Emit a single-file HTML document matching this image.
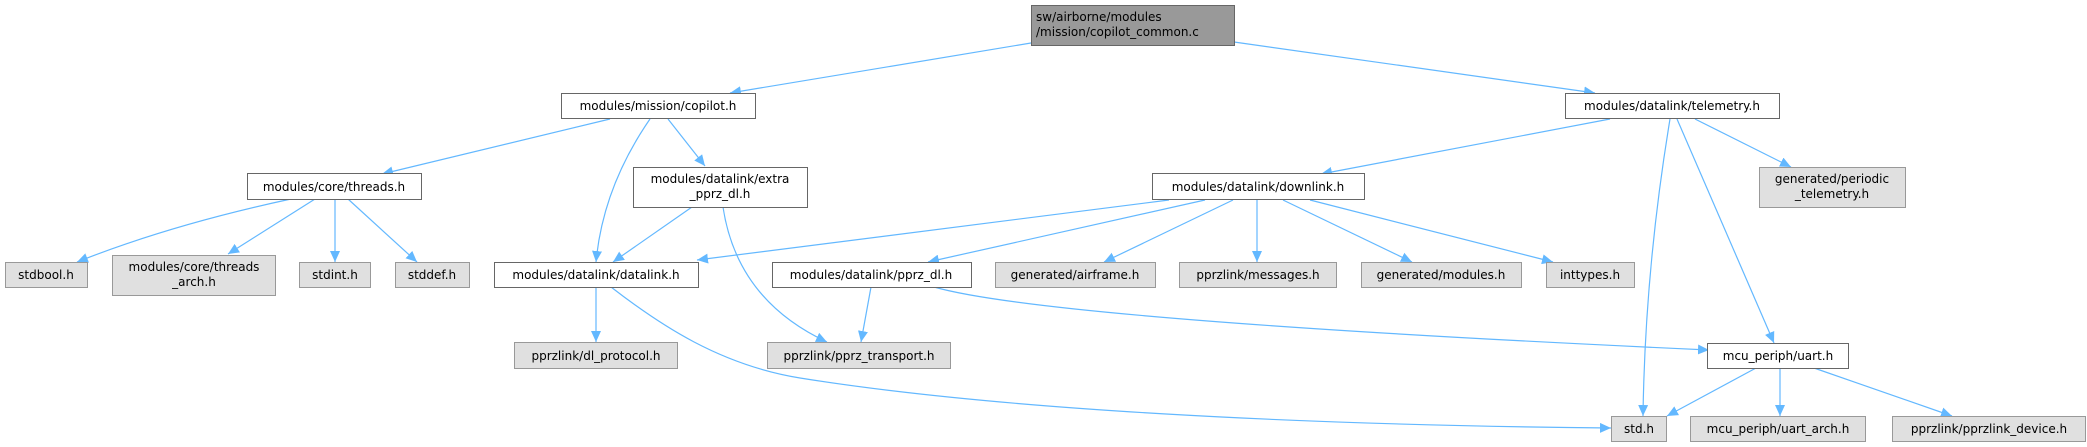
<!DOCTYPE html>
<html><head><meta charset="utf-8"><style>
html,body{margin:0;padding:0;background:#fff;}
svg{display:block;}
text{font-family:"DejaVu Sans","Liberation Sans",sans-serif;font-size:12px;fill:#000;}
.w{fill:#fff;stroke:#666;stroke-width:1;}
.g{fill:#e0e0e0;stroke:#999;stroke-width:1;}
.t{fill:#999;stroke:#666;stroke-width:1;}
.e{fill:none;stroke:#63b8ff;stroke-width:1.2;marker-end:url(#a);}
</style></head><body>
<svg width="2087" height="447" viewBox="0 0 2087 447" xmlns="http://www.w3.org/2000/svg">
<defs><marker id="a" markerUnits="userSpaceOnUse" markerWidth="12" markerHeight="10" refX="11" refY="5" orient="auto"><path d="M0,0 L11,5 L0,10 z" fill="#63b8ff"/></marker></defs>

<!-- edges -->
<path class="e" d="M1031,43 L730,93"/>
<path class="e" d="M1234,42 L1595,93"/>
<path class="e" d="M610,119 L382,174"/>
<path class="e" d="M650,119 Q603,187 596,262"/>
<path class="e" d="M668,119 L705,166"/>
<path class="e" d="M291,199 Q170,225 77,262"/>
<path class="e" d="M315,199 L228,254"/>
<path class="e" d="M335,199 L335,262"/>
<path class="e" d="M348,199 L417,262"/>
<path class="e" d="M692,207 L613,262"/>
<path class="e" d="M723,207 Q737,300 827,342"/>
<path class="e" d="M1169,200 L697,260"/>
<path class="e" d="M1205,200 L928,262"/>
<path class="e" d="M1233,200 L1104,262"/>
<path class="e" d="M1257,200 L1257,262"/>
<path class="e" d="M1283,200 L1412,262"/>
<path class="e" d="M1310,200 L1553,262"/>
<path class="e" d="M1610,119 L1321,174"/>
<path class="e" d="M1670,119 Q1645,270 1643,416"/>
<path class="e" d="M1677,119 L1774,343"/>
<path class="e" d="M1695,119 L1791,167"/>
<path class="e" d="M596,287 L596,342"/>
<path class="e" d="M611,287 C660,325 720,365 800,378 C1000,410 1300,425 1611,428"/>
<path class="e" d="M871,287 L861,342"/>
<path class="e" d="M934,287 Q1050,320 1709,350"/>
<path class="e" d="M1756,368 L1667,416"/>
<path class="e" d="M1780,368 L1780,416"/>
<path class="e" d="M1814,368 L1952,416"/>

<!-- nodes -->
<rect class="t" x="1031.5" y="5.5" width="203" height="40"/>
<text x="1036" y="21">sw/airborne/modules</text>
<text x="1036" y="36">/mission/copilot_common.c</text>

<rect class="w" x="561.5" y="93.5" width="194" height="25"/><text x="658" y="110" text-anchor="middle">modules/mission/copilot.h</text>
<rect class="w" x="1565.5" y="93.5" width="214" height="25"/><text x="1672" y="110" text-anchor="middle">modules/datalink/telemetry.h</text>

<rect class="w" x="247.5" y="173.5" width="174" height="26"/><text x="334" y="191" text-anchor="middle">modules/core/threads.h</text>
<rect class="w" x="633.5" y="167.5" width="174" height="40"/><text x="720" y="183" text-anchor="middle">modules/datalink/extra</text><text x="720" y="198" text-anchor="middle">_pprz_dl.h</text>
<rect class="w" x="1152.5" y="173.5" width="212" height="26"/><text x="1258" y="191" text-anchor="middle">modules/datalink/downlink.h</text>
<rect class="g" x="1759.5" y="167.5" width="146" height="40"/><text x="1832" y="183" text-anchor="middle">generated/periodic</text><text x="1832" y="198" text-anchor="middle">_telemetry.h</text>

<rect class="g" x="5.5" y="262.5" width="82" height="25"/><text x="46" y="279" text-anchor="middle">stdbool.h</text>
<rect class="g" x="112.5" y="255.5" width="163" height="40"/><text x="194" y="271" text-anchor="middle">modules/core/threads</text><text x="194" y="286" text-anchor="middle">_arch.h</text>
<rect class="g" x="299.5" y="262.5" width="71" height="25"/><text x="335" y="279" text-anchor="middle">stdint.h</text>
<rect class="g" x="395.5" y="262.5" width="74" height="25"/><text x="432" y="279" text-anchor="middle">stddef.h</text>
<rect class="w" x="494.5" y="262.5" width="204" height="25"/><text x="596" y="279" text-anchor="middle">modules/datalink/datalink.h</text>
<rect class="w" x="772.5" y="262.5" width="199" height="25"/><text x="871" y="279" text-anchor="middle">modules/datalink/pprz_dl.h</text>
<rect class="g" x="995.5" y="262.5" width="160" height="25"/><text x="1075" y="279" text-anchor="middle">generated/airframe.h</text>
<rect class="g" x="1179.5" y="262.5" width="157" height="25"/><text x="1258" y="279" text-anchor="middle">pprzlink/messages.h</text>
<rect class="g" x="1361.5" y="262.5" width="160" height="25"/><text x="1441" y="279" text-anchor="middle">generated/modules.h</text>
<rect class="g" x="1546.5" y="262.5" width="88" height="25"/><text x="1590" y="279" text-anchor="middle">inttypes.h</text>

<rect class="g" x="514.5" y="342.5" width="163" height="26"/><text x="596" y="360" text-anchor="middle">pprzlink/dl_protocol.h</text>
<rect class="g" x="767.5" y="342.5" width="183" height="26"/><text x="859" y="360" text-anchor="middle">pprzlink/pprz_transport.h</text>
<rect class="w" x="1707.5" y="343.5" width="141" height="25"/><text x="1778" y="360" text-anchor="middle">mcu_periph/uart.h</text>

<rect class="g" x="1611.5" y="416.5" width="55" height="25"/><text x="1639" y="433" text-anchor="middle">std.h</text>
<rect class="g" x="1690.5" y="416.5" width="175" height="25"/><text x="1778" y="433" text-anchor="middle">mcu_periph/uart_arch.h</text>
<rect class="g" x="1892.5" y="416.5" width="193" height="25"/><text x="1989" y="433" text-anchor="middle">pprzlink/pprzlink_device.h</text>
</svg>
</body></html>
